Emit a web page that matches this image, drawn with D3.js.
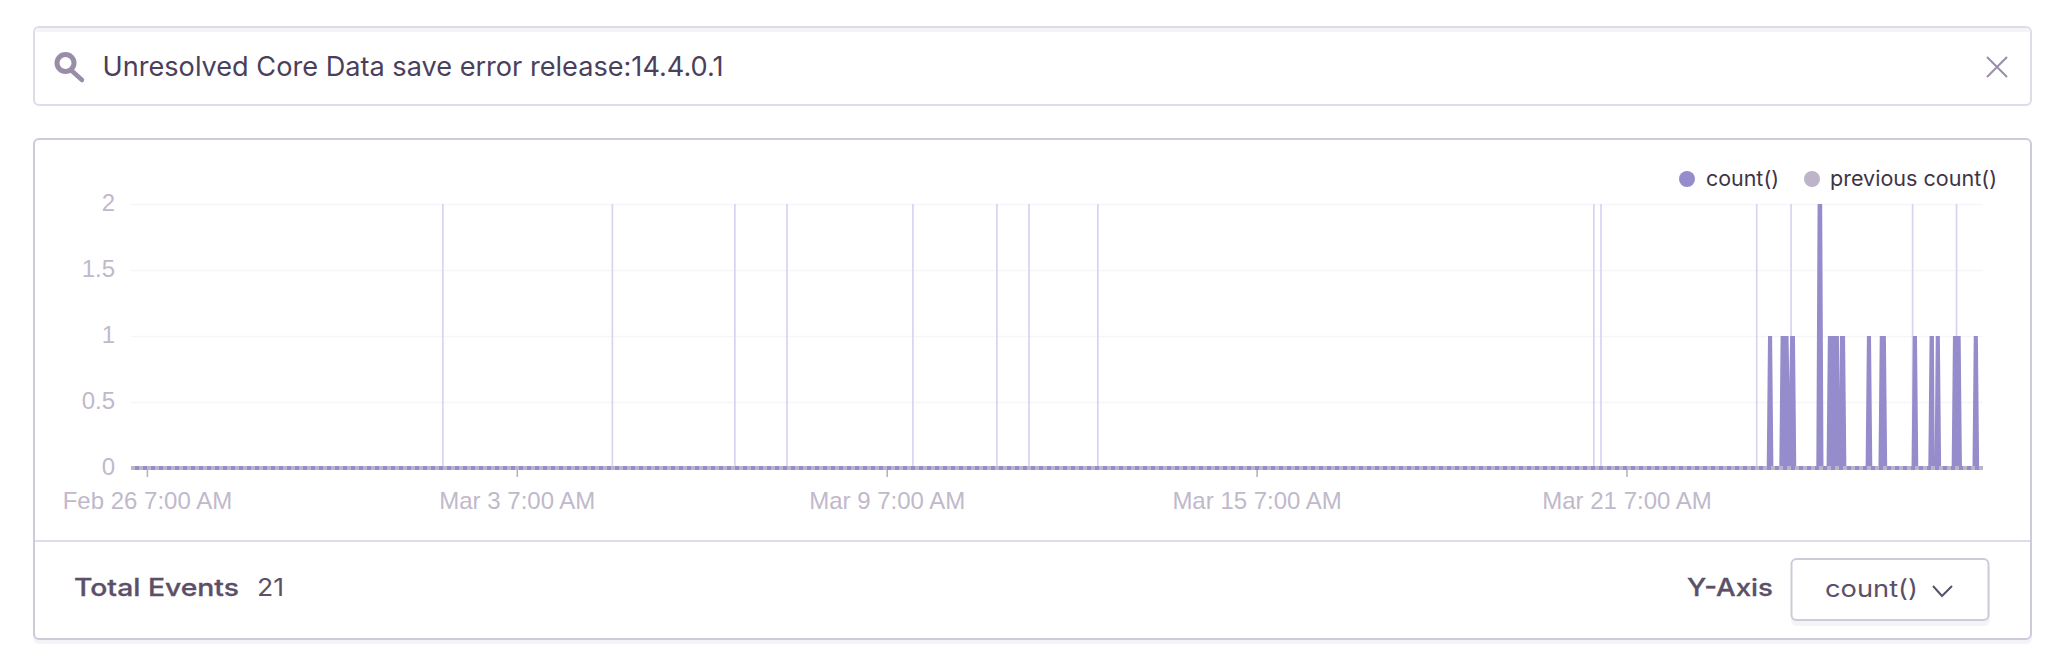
<!DOCTYPE html>
<html>
<head>
<meta charset="utf-8">
<script src="https://d3js.org/d3.v7.min.js"></script>
<style>
  html, body { margin: 0; padding: 0; background: #fff; }
  svg { display: block; }
  .ui { font-family: Inter, "Noto Sans", sans-serif; }
  .axis text { font-family: "Liberation Sans", Arial, sans-serif; font-size: 24px; fill: #c1b9cb; }
</style>
</head>
<body>
<div id="chart"></div>
<script>
// hours after Feb 26 7:00 AM
const domainHours = [-6.2, 714.8];
const yTicks = [0, 0.5, 1, 1.5, 2];
const xTickHours = [0, 144, 288, 432, 576];

// release markers
const releaseHours = [115.2, 181.2, 228.9, 249.2, 298.2, 330.9, 343.4, 370.2, 563.3, 566.1, 626.7, 640.1, 687.4, 704.5];

// count() outline, only the corners of each burst
const countHours = [-6.2, 630.6, 631.1, 632.7, 633.2, 635.5, 636.0, 639.1, 639.4, 639.7, 641.6, 642.1,
  649.9, 650.4, 652.2, 652.7, 653.9, 654.4, 658.7, 658.9, 659.1, 661.1, 661.6, 669.1, 669.6, 671.2, 671.7,
  674.1, 674.6, 677.0, 677.5, 687.0, 687.5, 689.1, 689.6, 693.5, 694.0, 695.7, 696.0, 696.4, 698.0, 698.5,
  702.6, 703.1, 706.1, 706.6, 710.7, 711.2, 712.8, 713.3, 714.8];
const countValues = [0, 0, 1, 1, 0, 0, 1, 1, 0.63, 1, 1, 0,
  0, 2, 2, 0, 0, 1, 1, 0.59, 1, 1, 0, 0, 1, 1, 0,
  0, 1, 1, 0, 0, 1, 1, 0, 0, 1, 1, 0.08, 1, 1, 0,
  0, 1, 1, 0, 0, 1, 1, 0, 0];

// previous count() stays at zero for the whole window
const previousHours = [-6.2, 714.8];
const previousValues = [0, 0];

const legendLabels = ["count()", "previous count()"];
const legendColors = ["#958ccb", "#bdb4c7"];

const width = 2060, height = 662;
const t0 = Date.UTC(2020, 1, 26, 7);
const toDate = h => new Date(t0 + h * 3600e3);

const svg = d3.select("#chart").append("svg")
    .attr("width", width)
    .attr("height", height);

// search box
svg.append("rect").attr("x", 34).attr("y", 27).attr("width", 1997).attr("height", 78).attr("rx", 5)
    .attr("fill", "#fff").attr("stroke", "#dfdbe8").attr("stroke-width", 2);
svg.append("path").attr("d", "M36 32 V31 Q36 28 39 28 H2026 Q2029 28 2029 31 V32 Z").attr("fill", "#f4f3f8");

// magnifier
const icon = svg.append("g").attr("fill", "none").attr("stroke", "#998da8");
icon.append("circle").attr("cx", 65.5).attr("cy", 63).attr("r", 8.5).attr("stroke-width", 5);
icon.append("line").attr("x1", 72).attr("y1", 71).attr("x2", 82).attr("y2", 80)
    .attr("stroke-width", 4.5).attr("stroke-linecap", "round");

svg.append("text").attr("class", "ui").attr("x", 102.5).attr("y", 76)
    .attr("font-size", 27).attr("fill", "#4a3f5c")
    .attr("textLength", 621).attr("lengthAdjust", "spacingAndGlyphs")
    .text("Unresolved Core Data save error release:14.4.0.1");

// close cross
svg.append("path").attr("d", "M1987 57 L2007 77 M2007 57 L1987 77")
    .attr("stroke", "#9a8fa8").attr("stroke-width", 2).attr("fill", "none");

// card
svg.append("rect").attr("x", 33).attr("y", 142).attr("width", 1999).attr("height", 502).attr("rx", 6).attr("fill", "#f4f3f7");
svg.append("rect").attr("x", 34).attr("y", 139).attr("width", 1997).attr("height", 500).attr("rx", 5)
    .attr("fill", "#fff").attr("stroke", "#d0c9d8").attr("stroke-width", 2);
svg.append("line").attr("x1", 35).attr("x2", 2030).attr("y1", 541).attr("y2", 541)
    .attr("stroke", "#e0dbe8").attr("stroke-width", 2);

// scales
const x = d3.scaleUtc().domain(domainHours.map(toDate)).range([131, 1983]);
const y = d3.scaleLinear().domain([0, 2]).range([468, 204]);

// grid
svg.append("g")
    .call(d3.axisLeft(y).tickValues(yTicks).tickSize(-(x.range()[1] - x.range()[0])).tickFormat(""))
    .attr("transform", "translate(131,0)")
    .call(g => g.select(".domain").remove())
    .call(g => g.selectAll("line").attr("stroke", "#f6f5f8").attr("stroke-width", 1.5));

// y labels
svg.append("g").attr("class", "axis")
    .attr("transform", "translate(131,0)")
    .call(d3.axisLeft(y).tickValues(yTicks).tickSize(0).tickPadding(16).tickFormat(d3.format("~g")))
    .call(g => g.select(".domain").remove())
    .call(g => g.selectAll("text").attr("dy", "0.25em"));

// release lines
svg.append("g").selectAll("line")
    .data(releaseHours)
    .enter().append("line")
    .attr("x1", d => x(toDate(d)))
    .attr("x2", d => x(toDate(d)))
    .attr("y1", y(2))
    .attr("y2", y(0))
    .attr("stroke", "#d8d3f3")
    .attr("stroke-width", 1.7);

// x axis
svg.append("g").attr("class", "axis")
    .attr("transform", `translate(0,${y(0)})`)
    .call(d3.axisBottom(x).tickValues(xTickHours.map(toDate)).tickSizeInner(9).tickSizeOuter(0).tickPadding(15)
      .tickFormat(d3.utcFormat("%b %-d %-I:%M %p")))
    .call(g => g.select(".domain").remove())
    .call(g => g.selectAll("line").attr("stroke", "#b5adc0").attr("stroke-width", 1.5));

// count() area and its base line
const area = d3.area()
    .x(d => x(toDate(d[0])))
    .y0(y(0))
    .y1(d => y(d[1]));
const line = d3.line()
    .x(d => x(toDate(d[0])))
    .y(d => y(d[1]));

svg.append("path")
    .attr("d", area(d3.zip(countHours, countValues)))
    .attr("fill", "#958ccb");
svg.append("path")
    .attr("d", line(d3.zip(previousHours, countValues.slice(0, 2))))
    .attr("fill", "none").attr("stroke", "#958ccb").attr("stroke-width", 4);

// previous count() dashed on top
svg.append("path")
    .attr("d", line(d3.zip(previousHours, previousValues)))
    .attr("fill", "none").attr("stroke", "#bdb4c7").attr("stroke-width", 4)
    .attr("stroke-dasharray", "4 4");

// legend
const legendCx = [1687, 1812];
const legendTx = [1706, 1830];
const legendLen = [73, 167];
legendLabels.forEach((d, i) => {
  svg.append("circle").attr("cx", legendCx[i]).attr("cy", 179).attr("r", 8).attr("fill", legendColors[i]);
  svg.append("text").attr("class", "ui").attr("x", legendTx[i]).attr("y", 185.5)
      .attr("font-size", 21).attr("fill", "#3e3446")
      .attr("textLength", legendLen[i]).attr("lengthAdjust", "spacingAndGlyphs")
      .text(d);
});

// footer
svg.append("text").attr("class", "ui").attr("x", 74).attr("y", 596)
    .attr("font-size", 24).attr("font-weight", 500).attr("fill", "#5c5068")
    .attr("stroke", "#5c5068").attr("stroke-width", 0.3)
    .attr("textLength", 165).attr("lengthAdjust", "spacingAndGlyphs").text("Total Events");
svg.append("text").attr("class", "ui").attr("x", 257).attr("y", 596)
    .attr("font-size", 24).attr("fill", "#5c5068")
    .attr("textLength", 27).attr("lengthAdjust", "spacingAndGlyphs").text("21");
svg.append("text").attr("class", "ui").attr("x", 1687).attr("y", 596)
    .attr("font-size", 24).attr("font-weight", 500).attr("fill", "#5c5068")
    .attr("stroke", "#5c5068").attr("stroke-width", 0.3)
    .attr("textLength", 86).attr("lengthAdjust", "spacingAndGlyphs").text("Y-Axis");

// y axis button
svg.append("rect").attr("x", 1791).attr("y", 562).attr("width", 199).attr("height", 64).attr("rx", 6).attr("fill", "#f4f3f7");
svg.append("rect").attr("x", 1791.5).attr("y", 559).attr("width", 197).attr("height", 61).attr("rx", 5)
    .attr("fill", "#fff").attr("stroke", "#d0c9d8").attr("stroke-width", 2);
svg.append("text").attr("class", "ui").attr("x", 1825).attr("y", 597)
    .attr("font-size", 24).attr("fill", "#5c5068")
    .attr("textLength", 93).attr("lengthAdjust", "spacingAndGlyphs").text("count()");
svg.append("path").attr("d", "M1933 586 L1942 596 L1952 586")
    .attr("fill", "none").attr("stroke", "#5c5068").attr("stroke-width", 2);
</script>
</body>
</html>
